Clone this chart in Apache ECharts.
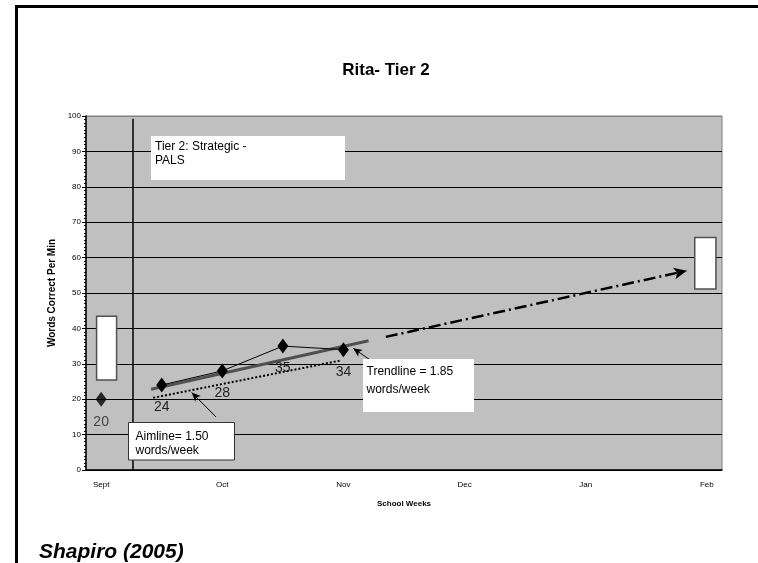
<!DOCTYPE html>
<html>
<head>
<meta charset="utf-8">
<title>Rita- Tier 2</title>
<script src="https://cdn.jsdelivr.net/npm/echarts@6/dist/echarts.min.js"></script>
<style>
html, body { margin: 0; padding: 0; background: #fff; }
#main { width: 758px; height: 563px; }
</style>
</head>
<body>
<div id="main"></div>
<script>
// ---------- 数据 ----------
// 横轴：每周一个类目，每4周标一个月份
var months = ['Sept', 'Oct', 'Nov', 'Dec', 'Jan', 'Feb'];
var weekCount = 21;
var yMin = 0, yMax = 100, yStep = 10;

// 基线点与干预后的成绩（周, 每分钟正确词数）
var baselineWeeks = [0];
var baselineScores = [20];
var progressWeeks = [2, 4, 6, 8];
var progressScores = [24, 28, 35, 34];

// 趋势线 / 目标线 / 预测线端点
var trendWeeks = [1.65, 8.83];
var trendScores = [22.8, 36.5];
var aimWeeks = [1.72, 7.89];
var aimScores = [20.4, 30.9];
var goalLineWeeks = [9.4, 19.34];
var goalLineScores = [37.6, 56.3];

// 两个白色方框（基线范围、目标范围）
var baselineBoxWeeks = [-0.15, 0.51];
var baselineBoxScores = [25.4, 43.4];
var goalBoxWeeks = [19.6, 20.3];
var goalBoxScores = [51.1, 65.7];

// 阶段分界线
var phaseWeek = 1.05;
var phaseTop = 99.2;

// 注释箭头（起点 -> 终点）
var aimArrowWeeks = [3.79, 2.99];
var aimArrowScores = [15.0, 21.9];
var trendArrowWeeks = [8.93, 8.32];
var trendArrowScores = [30.8, 34.4];

// ---------- 工具 ----------
function pairs(xs, ys) {
	return xs.map(function(x, i) { return [x, ys[i]]; });
}
function segment(xs, ys, style, size) {
	return [
		{ coord: [xs[0], ys[0]], symbol: 'none', lineStyle: style },
		{ coord: [xs[1], ys[1]], symbol: size ? 'arrow' : 'none', symbolSize: size || 0 }
	];
}

var SANS = "'Liberation Sans', Arial, sans-serif";

var weekLabels = [];
for (var i = 0; i < weekCount; i++) {
	weekLabels.push(i % 4 === 0 ? months[i / 4] : '');
}

var yLineColors = [];
for (var v = yMin; v <= yMax; v += yStep) {
	yLineColors.push(v === yMax ? '#808080' : '#000');
}

var myChart = echarts.init(document.getElementById('main'));

var pointLabel = {
	show: true,
	position: 'bottom',
	distance: 8,
	fontFamily: SANS,
	fontSize: 14,
	color: '#222'
};

var option = {
	animation: false,
	backgroundColor: '#fff',
	title: {
		text: 'Rita- Tier 2',
		left: 381,
		top: 57,
		textAlign: 'center',
		textStyle: { fontFamily: SANS, fontSize: 17, fontWeight: 'bold', color: '#000' }
	},
	grid: {
		left: 86,
		right: 36,
		top: 116,
		bottom: 93,
		show: true,
		backgroundColor: '#c0c0c0',
		borderColor: '#808080',
		borderWidth: 1
	},
	xAxis: [{
		type: 'value',
		min: -0.5,
		max: weekCount - 0.5,
		show: false
	}, {
		type: 'category',
		data: weekLabels,
		boundaryGap: true,
		position: 'bottom',
		name: 'School Weeks',
		nameLocation: 'middle',
		nameGap: 30,
		nameTextStyle: { fontFamily: SANS, fontSize: 8, fontWeight: 'bold', color: '#000' },
		axisLine: { lineStyle: { color: '#000', width: 1.5 } },
		axisTick: { interval: 0, length: 4, lineStyle: { color: '#000' } },
		axisLabel: { interval: 0, margin: 11, fontFamily: SANS, fontSize: 8, color: '#000' },
		splitLine: { show: false }
	}],
	yAxis: {
		type: 'value',
		min: yMin,
		max: yMax,
		interval: yStep,
		name: 'Words Correct Per Min',
		nameLocation: 'middle',
		nameGap: 23,
		nameTextStyle: { fontFamily: SANS, fontSize: 10, fontWeight: 'bold', color: '#000' },
		axisLine: { show: true, onZero: false, lineStyle: { color: '#000', width: 1.5 } },
		axisTick: { show: true, length: 4, lineStyle: { color: '#000' } },
		minorTick: { show: true, splitNumber: 10, length: 2, lineStyle: { color: '#000' } },
		axisLabel: { margin: 5, fontFamily: SANS, fontSize: 8, color: '#000' },
		splitLine: { show: true, lineStyle: { color: yLineColors, width: 1 } }
	},
	series: [{
		// 趋势线（粗灰线），同时承载方框与箭头
		name: 'Trendline',
		type: 'line',
		data: pairs(trendWeeks, trendScores),
		symbol: 'none',
		lineStyle: { color: '#505050', width: 3 },
		z: 3,
		markArea: {
			silent: true,
			itemStyle: { color: '#fff', borderColor: '#505050', borderWidth: 1.5 },
			data: [
				[{ coord: [baselineBoxWeeks[0], baselineBoxScores[1]] }, { coord: [baselineBoxWeeks[1], baselineBoxScores[0]] }],
				[{ coord: [goalBoxWeeks[0], goalBoxScores[1]] }, { coord: [goalBoxWeeks[1], goalBoxScores[0]] }]
			]
		},
		markLine: {
			silent: true,
			label: { show: false },
			emphasis: { disabled: true },
			data: [
				segment([phaseWeek, phaseWeek], [yMin, phaseTop], { color: '#000', width: 1.5, type: 'solid' }),
				segment(goalLineWeeks, goalLineScores, { color: '#000', width: 2.5, type: [12, 4, 2, 4] }, [9, 13]),
				segment(aimArrowWeeks, aimArrowScores, { color: '#000', width: 1, type: 'solid' }, [6, 9]),
				segment(trendArrowWeeks, trendArrowScores, { color: '#000', width: 1, type: 'solid' }, [6, 9])
			]
		}
	}, {
		name: 'Aimline',
		type: 'line',
		data: pairs(aimWeeks, aimScores),
		symbol: 'none',
		lineStyle: { color: '#000', width: 2, type: [2, 2] },
		z: 3
	}, {
		name: 'Progress',
		type: 'line',
		data: pairs(progressWeeks, progressScores),
		symbol: 'diamond',
		symbolSize: [11, 15],
		itemStyle: { color: '#000' },
		lineStyle: { color: '#000', width: 1 },
		label: pointLabel,
		z: 4
	}, {
		name: 'Baseline',
		type: 'scatter',
		data: pairs(baselineWeeks, baselineScores),
		symbol: 'diamond',
		symbolSize: [11, 15],
		itemStyle: { color: '#000' },
		label: pointLabel,
		z: 4
	}],
	graphic: [
		// 外框（上、左）
		{ type: 'line', shape: { x1: 15, y1: 6.5, x2: 758, y2: 6.5 }, style: { stroke: '#000', lineWidth: 3 } },
		{ type: 'line', shape: { x1: 16.5, y1: 5, x2: 16.5, y2: 563 }, style: { stroke: '#000', lineWidth: 3 } },
		// 文字框
		{ type: 'rect', shape: { x: 151, y: 136, width: 194, height: 44 }, style: { fill: '#fff' }, z: 10 },
		{ type: 'text', x: 155, y: 139, z: 11,
			style: { text: 'Tier 2: Strategic -\nPALS', font: '12px ' + SANS, lineHeight: 14.5, fill: '#000', verticalAlign: 'top' } },
		{ type: 'rect', shape: { x: 128.5, y: 422.5, width: 106, height: 37.5 }, style: { fill: '#fff', stroke: '#333', lineWidth: 1 }, z: 10 },
		{ type: 'text', x: 135.5, y: 429, z: 11,
			style: { text: 'Aimline= 1.50\nwords/week', font: '12px ' + SANS, lineHeight: 14.5, fill: '#000', verticalAlign: 'top' } },
		{ type: 'rect', shape: { x: 363, y: 359, width: 111, height: 53 }, style: { fill: '#fff' }, z: 10 },
		{ type: 'text', x: 366.5, y: 362, z: 11,
			style: { text: 'Trendline = 1.85\nwords/week', font: '12px ' + SANS, lineHeight: 18.5, fill: '#000', verticalAlign: 'top' } },
		// 出处
		{ type: 'text', x: 39, y: 552, z: 11,
			style: { text: 'Shapiro (2005)', font: 'italic bold 21px ' + SANS, fill: '#000', verticalAlign: 'middle' } }
	]
};

myChart.setOption(option);
</script>
</body>
</html>
